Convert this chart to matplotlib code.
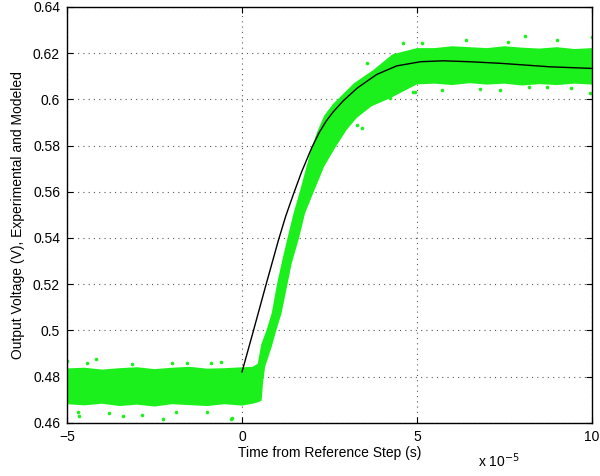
import numpy as np
import matplotlib
matplotlib.use("Agg")
import matplotlib.pyplot as plt
from matplotlib.ticker import FormatStrFormatter

plt.rcParams['font.family'] = ['Liberation Sans', 'DejaVu Sans']

# time axis is in units of 1e-5 s
# modelled response (black line)
t_model = [0, 0.32, 0.69, 1.04, 1.25, 1.47, 1.7, 1.99, 2.2, 2.4, 2.6, 2.9, 3.3,
           3.85, 4.42, 5.1, 5.75, 6.5, 7.4, 8.8, 10]
v_model = [0.482, 0.4995, 0.520, 0.539, 0.5495, 0.559, 0.5685, 0.579, 0.5855,
           0.5905, 0.5945, 0.5995, 0.6050, 0.6108, 0.6145, 0.6163, 0.6167, 0.6163,
           0.6156, 0.6141, 0.6134]

# experimental data: upper and lower edge of the dense cloud of samples
t_upper = [-5, -4.5, -4, -3.5, -3, -2.5, -2, -1.5, -1, -0.5, 0, 0.3, 0.45, 0.55,
           0.7, 0.85, 1.0, 1.13, 1.3, 1.47, 1.65, 1.97, 2.15, 2.35, 2.6, 2.9,
           3.2, 3.75, 4.3, 5.0, 5.5, 6.0, 6.5, 7.0, 7.5, 8.0, 8.5, 9.0, 9.5, 10]
v_upper = [0.4835, 0.4838, 0.4830, 0.4836, 0.4840, 0.4832, 0.4838, 0.4842, 0.4834,
           0.4836, 0.4840, 0.4842, 0.4855, 0.494, 0.500, 0.5075, 0.520, 0.529,
           0.540, 0.5505, 0.560, 0.578, 0.586, 0.593, 0.598, 0.6025, 0.607,
           0.6127, 0.6195, 0.6222, 0.6222, 0.6230, 0.6226, 0.6222, 0.6230, 0.6224,
           0.6220, 0.6226, 0.6218, 0.6222]
t_lower = [-5, -4.5, -4, -3.5, -3, -2.5, -2, -1.5, -1, -0.5, 0, 0.3, 0.45, 0.56,
           0.6, 0.66, 0.85, 0.98, 1.13, 1.3, 1.42, 1.63, 1.8, 2.05, 2.35, 2.66,
           3.0, 3.28, 3.7, 4.23, 5.0, 5.5, 6.0, 6.5, 7.0, 7.5, 8.0, 8.5, 9.0, 9.5,
           10]
v_lower = [0.4680, 0.4675, 0.4682, 0.4672, 0.4678, 0.4670, 0.4680, 0.4676, 0.4672,
           0.4680, 0.4674, 0.4682, 0.4688, 0.4695, 0.4770, 0.4842, 0.4929, 0.500,
           0.5074, 0.520, 0.529, 0.540, 0.5506, 0.560, 0.571, 0.579, 0.587, 0.592,
           0.597, 0.6005, 0.6065, 0.6068, 0.6062, 0.6070, 0.6064, 0.6068, 0.6060,
           0.6066, 0.6062, 0.6068, 0.6064]

# stray samples outside the dense cloud
t_stray = [-5.0, -4.44, -4.17, -3.15, -1.58, -2.0, -0.6, -0.9, -4.66, -4.7, -3.4,
           -2.87, -2.25, -1.0, -0.29, -0.32, -3.8, -1.9, 3.58, 3.42, 3.28, 4.23,
           4.89, 4.94, 5.13, 8.09, 9.99, 7.37, 9.41, 9.94, 8.7, 6.4, 7.6, 4.6,
           9.0, 5.7, 6.8, 8.2]
v_stray = [0.4867, 0.4857, 0.4874, 0.4852, 0.4857, 0.4860, 0.4862, 0.4860, 0.4629,
           0.4645, 0.4629, 0.4633, 0.4616, 0.4648, 0.4622, 0.4617, 0.4640, 0.4645,
           0.6156, 0.5874, 0.5889, 0.6004, 0.6033, 0.6033, 0.6242, 0.6275, 0.6271,
           0.6040, 0.6048, 0.6026, 0.6055, 0.6255, 0.6250, 0.6245, 0.6255, 0.6040,
           0.6045, 0.6052]

green = '#1cf01c'

fig = plt.figure(figsize=(6.0, 4.76), dpi=100)
ax = fig.add_axes([0.1117, 0.1120, 0.8750, 0.8733])

# experimental cloud
ax.fill(np.r_[t_upper, t_lower[::-1]], np.r_[v_upper, v_lower[::-1]],
        color=green, lw=0, zorder=2)
ax.plot(t_stray, v_stray, 'o', color=green, ms=2.6, mew=0, zorder=2)

# model
ax.plot(t_model, v_model, color='black', lw=1.0, zorder=3)

ax.set_xlim(-5, 10)
ax.set_ylim(0.46, 0.64)
ax.set_xticks([-5, 0, 5, 10])
ax.set_yticks(np.arange(0.46, 0.6401, 0.02))
ax.yaxis.set_major_formatter(FormatStrFormatter('%g'))
ax.tick_params(direction='in', top=True, right=True, length=4, labelsize=10,
               width=0.8, pad=5)
ax.grid(True, linestyle=(0, (1, 3.75)), color='0.35', linewidth=0.8)
for s in ax.spines.values():
    s.set_linewidth(1.0)

ax.set_xlabel('Time from Reference Step (s)', fontsize=10, labelpad=2)
ax.set_ylabel('Output Voltage (V), Experimental and Modeled', fontsize=10,
              labelpad=6)
fig.text(0.797, 0.018, r'x 10$^{-5}$', fontsize=10, ha='left', va='baseline')

fig.savefig('out.png', dpi=100)
